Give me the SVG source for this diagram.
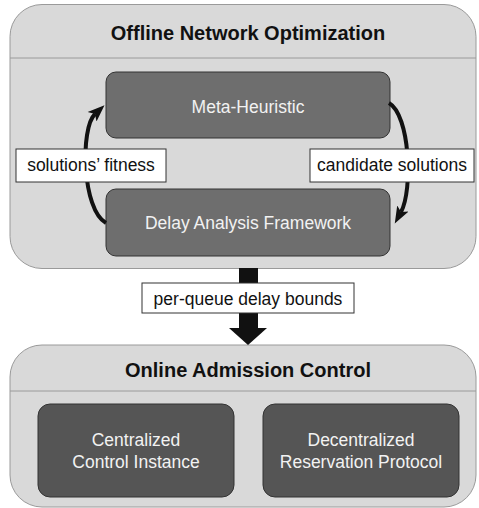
<svg xmlns="http://www.w3.org/2000/svg" width="479" height="508" viewBox="0 0 479 508">
<style>
.outer{fill:#d9d9d9;stroke:#9a9a9a;stroke-width:1}
.sep{stroke:#9a9a9a;stroke-width:1}
.mid{fill:#6e6e6e;stroke:#333;stroke-width:1}
.dark{fill:#555;stroke:#333;stroke-width:1}
.lbl{fill:#fff;stroke:#333;stroke-width:1}
.title{font-family:"Liberation Sans",Arial,sans-serif;font-weight:bold;font-size:20px;fill:#111;text-anchor:middle}
.wt{font-family:"Liberation Sans",Arial,sans-serif;font-size:17.5px;fill:#f2f2f2;text-anchor:middle}
.bt{font-family:"Liberation Sans",Arial,sans-serif;font-size:17.5px;fill:#111;text-anchor:middle}
.arc{fill:none;stroke:#111;stroke-width:4}
</style>
<defs>
<marker id="ah" markerUnits="userSpaceOnUse" markerWidth="18" markerHeight="16" viewBox="0 0 18 16" refX="4" refY="8" orient="auto">
<path d="M0,1.5 L17,8 L0,14.5 L4,8 Z" fill="#111"/>
</marker>
</defs>
<g id="offline">
<rect class="outer" x="10" y="4.5" width="466" height="264" rx="32"/>
<line class="sep" x1="10" y1="58" x2="476" y2="58"/>
<text class="title" x="248" y="40">Offline Network Optimization</text>
</g>
<g id="meta">
<rect class="mid" x="106" y="72" width="284" height="66" rx="10"/>
<text class="wt" x="248" y="113">Meta-Heuristic</text>
</g>
<g id="delay">
<rect class="mid" x="106" y="189" width="284" height="67" rx="10"/>
<text class="wt" x="248" y="229">Delay Analysis Framework</text>
</g>
<g id="online">
<rect class="outer" x="10" y="345" width="466" height="162" rx="32"/>
<line class="sep" x1="10" y1="391" x2="476" y2="391"/>
<text class="title" x="248" y="377">Online Admission Control</text>
</g>
<g id="central">
<rect class="dark" x="38" y="404" width="196" height="93" rx="12"/>
<text class="wt" x="136" y="446">Centralized</text>
<text class="wt" x="136" y="468">Control Instance</text>
</g>
<g id="decentral">
<rect class="dark" x="263" y="404" width="196" height="93" rx="12"/>
<text class="wt" x="361" y="446">Decentralized</text>
<text class="wt" x="361" y="468">Reservation Protocol</text>
</g>
<g id="connectors">
<path class="arc" d="M106,223 C82,210 80,128 95,114" marker-end="url(#ah)"/>
<path class="arc" d="M389,103 C410,115 413,190 401,212" marker-end="url(#ah)"/>
<rect x="239" y="268" width="19" height="17" fill="#111"/>
<rect x="239" y="311" width="19" height="18" fill="#111"/>
<polygon points="229,328 267,328 248,345" fill="#111"/>
<g id="lbl-fitness">
<rect class="lbl" x="16" y="149" width="150" height="33"/>
<text class="bt" x="91" y="171">solutions’ fitness</text>
</g>
<g id="lbl-candidate">
<rect class="lbl" x="310" y="149" width="164" height="33"/>
<text class="bt" x="392" y="171">candidate solutions</text>
</g>
<g id="lbl-bounds">
<rect class="lbl" x="142" y="283" width="212" height="30"/>
<text class="bt" x="248" y="305">per-queue delay bounds</text>
</g>
</g>
</svg>
